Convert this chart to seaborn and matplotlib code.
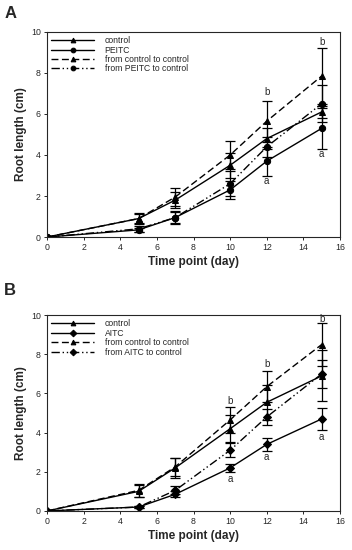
import numpy as np
import pandas as pd
import matplotlib
matplotlib.use("Agg")
import matplotlib.pyplot as plt
import seaborn as sns

# days sampled
days = [0, 5, 7, 10, 12, 15]

# panel A (PEITC)
a_control = [0, 0.9, 1.8, 3.5, 4.8, 6.1]
a_control_err = [0, 0.2, 0.4, 0.6, 0.5, 0.3]
a_peitc = [0, 0.35, 0.95, 2.3, 3.7, 5.3]
a_peitc_err = [0, 0.1, 0.3, 0.45, 0.7, 1.0]
a_c2c = [0, 0.9, 1.95, 4.0, 5.65, 7.85]
a_c2c_err = [0, 0.25, 0.45, 0.7, 1.0, 1.35]
a_p2c = [0, 0.4, 0.95, 2.6, 4.4, 6.5]
a_p2c_err = [0, 0.15, 0.25, 0.6, 0.5, 0.9]
a_names = ["control", "PEITC", "from control to control", "from PEITC to control"]
a_letters = [(12, 7.05, "b"), (12, 2.75, "a"), (15, 9.5, "b"), (15, 4.05, "a")]

# panel B (AITC)
b_control = [0, 1.0, 2.2, 4.2, 5.55, 6.9]
b_control_err = [0, 0.3, 0.5, 0.7, 0.9, 1.3]
b_aitc = [0, 0.2, 0.85, 2.2, 3.4, 4.7]
b_aitc_err = [0, 0.05, 0.15, 0.2, 0.35, 0.55]
b_c2c = [0, 1.05, 2.25, 4.65, 6.35, 8.5]
b_c2c_err = [0, 0.35, 0.45, 0.65, 0.8, 1.1]
b_a2c = [0, 0.2, 1.05, 3.1, 4.8, 7.0]
b_a2c_err = [0, 0.05, 0.2, 0.35, 0.4, 0.7]
b_names = ["control", "AITC", "from control to control", "from AITC to control"]
b_letters = [(10, 5.6, "b"), (10, 1.65, "a"), (12, 7.5, "b"), (12, 2.75, "a"),
             (15, 9.8, "b"), (15, 3.8, "a")]

sns.set_style("ticks")
plt.rcParams['font.family'] = ['Liberation Sans', 'DejaVu Sans']

styles = ["-", "-", (0, (5, 2.5)), (0, (6, 2, 1, 2, 1, 2))]


def draw(ax, series, errs, names, markers, letters):
    for i in range(4):
        df = pd.DataFrame({"day": days, "len": series[i]})
        sns.lineplot(data=df, x="day", y="len", ax=ax, color="black",
                     marker=markers[i], markersize=4.5, linewidth=1.0,
                     linestyle=styles[i], label=names[i],
                     markeredgecolor="black", markerfacecolor="black")
        ax.errorbar(days, series[i], yerr=errs[i], fmt="none", ecolor="black",
                    elinewidth=0.9, capsize=3.5, capthick=0.9)
    for x, y, t in letters:
        ax.text(x, y, t, ha="center", va="center", fontsize=7)
    ax.set_xlim(0, 16)
    ax.set_ylim(0, 10)
    ax.set_xticks(range(0, 17, 2))
    ax.set_yticks(range(0, 11, 2))
    ax.tick_params(labelsize=6.3, length=2.5, width=0.7, pad=2)
    for s in ax.spines.values():
        s.set_visible(True)
        s.set_linewidth(0.8)
    ax.set_xlabel("Time point (day)", fontsize=8.5, fontweight="bold", labelpad=3)
    ax.set_ylabel("Root length (cm)", fontsize=8.5, fontweight="bold", labelpad=3)
    ax.legend(loc="upper left", frameon=False, fontsize=6.2, handlelength=5,
              borderaxespad=0.2, borderpad=0.3, labelspacing=0.05,
              handletextpad=1.2, markerscale=0.75)


fig = plt.figure(figsize=(3.52, 5.5), dpi=100)
ax1 = fig.add_axes([0.1335, 0.569, 0.8325, 0.373])
ax2 = fig.add_axes([0.1335, 0.071, 0.8325, 0.356])

draw(ax1, [a_control, a_peitc, a_c2c, a_p2c],
     [a_control_err, a_peitc_err, a_c2c_err, a_p2c_err],
     a_names, ["^", "o", "^", "o"], a_letters)
draw(ax2, [b_control, b_aitc, b_c2c, b_a2c],
     [b_control_err, b_aitc_err, b_c2c_err, b_a2c_err],
     b_names, ["^", "D", "^", "D"], b_letters)

fig.text(0.012, 0.975, "A", fontsize=12, fontweight="bold", va="center")
fig.text(0.012, 0.472, "B", fontsize=12, fontweight="bold", va="center")

fig.savefig("out.png", dpi=100)
